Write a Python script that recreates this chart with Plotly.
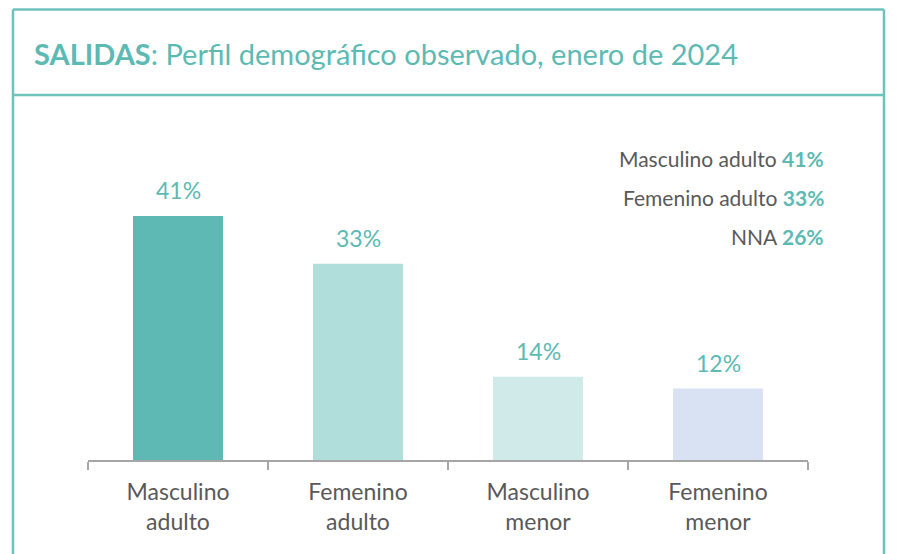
import plotly.graph_objects as go

categories = ["Masculino<br>adulto", "Femenino<br>adulto", "Masculino<br>menor", "Femenino<br>menor"]
values = [41, 33, 14, 12]
bar_colors = ["#5EB8B3", "#B0DEDA", "#D0EAE9", "#D9E2F3"]
summary_labels = ["Masculino adulto", "Femenino adulto", "NNA"]
summary_values = [41, 33, 26]

TEAL = "#5DBAB3"
GRAY = "#595959"
FONT = "Lato"

OFF = 8  # page body margin
W, H = 897 - OFF, 554 - OFF
ML = 88 - OFF
MR = 897 - 808
MT = 110 - OFF
MB = 554 - 460
PW, PH = W - ML - MR, H - MT - MB

def px(x):
    return (x - OFF - ML) / PW

def py(y):
    return (H - MB - (y - OFF)) / PH

fig = go.Figure()
fig.add_trace(go.Bar(
    x=categories, y=values, marker=dict(color=bar_colors, line=dict(width=0)),
    width=0.5, hoverinfo="skip",
))

ann = []
for c, v in zip(categories, values):
    ann.append(dict(x=c, y=v, xref="x", yref="y", text=f"{v}%", showarrow=False,
                    yanchor="bottom", yshift=10, font=dict(family=FONT, size=23, color=TEAL)))

ann.append(dict(x=px(32), y=py(53), xref="paper", yref="paper", xanchor="left", yanchor="middle",
                showarrow=False,
                text="<b>SALIDAS</b>: Perfil demográfico observado, enero de 2024",
                font=dict(family=FONT, size=29, color=TEAL)))

for i, (lab, v) in enumerate(zip(summary_labels, summary_values)):
    ann.append(dict(x=px(826), y=py(158 + 39 * i), xref="paper", yref="paper",
                    xanchor="right", yanchor="middle", showarrow=False,
                    text=f"{lab} <b><span style='color:{TEAL}'>{v}%</span></b>",
                    font=dict(family=FONT, size=21, color=GRAY)))

line = dict(color="#6CC3BC", width=2.5)
TOP = 9.5
shapes = [
    dict(type="line", xref="paper", yref="paper", x0=px(13), x1=px(13), y0=py(560), y1=py(TOP), line=line),
    dict(type="line", xref="paper", yref="paper", x0=px(884), x1=px(884), y0=py(560), y1=py(TOP), line=line),
    dict(type="line", xref="paper", yref="paper", x0=px(13), x1=px(884), y0=py(TOP), y1=py(TOP), line=line),
    dict(type="line", xref="paper", yref="paper", x0=px(13), x1=px(884), y0=py(95), y1=py(95), line=line),
]

fig.update_layout(
    width=W, height=H, margin=dict(l=ML, r=MR, t=MT, b=MB),
    paper_bgcolor="white", plot_bgcolor="white", showlegend=False,
    annotations=ann, shapes=shapes,
    xaxis=dict(range=[-0.5, 3.5], showline=True, linecolor="#A6A6A6", linewidth=1.5,
               ticks="outside", tickson="boundaries", ticklen=8, tickcolor="#A6A6A6", tickwidth=1.5,
               ticklabelstandoff=11,
               tickfont=dict(family=FONT, size=23, color=GRAY), showgrid=False, zeroline=False),
    yaxis=dict(range=[0, PH / 5.95], visible=False, showgrid=False, zeroline=False),
)

fig.write_html("out.html")
